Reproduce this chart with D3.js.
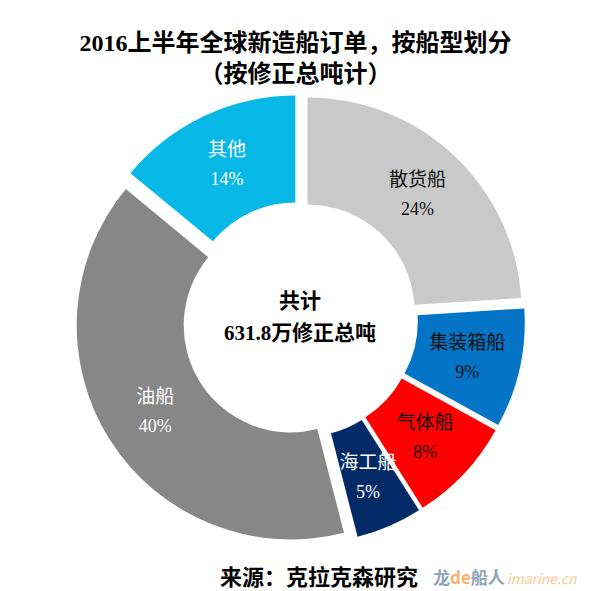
<!DOCTYPE html>
<html>
<head>
<meta charset="utf-8">
<script src="https://cdn.jsdelivr.net/npm/d3@7"></script>
<style>
  html, body { margin: 0; padding: 0; background: #fff; }
  svg { display: block; }
</style>
</head>
<body>
<div id="chart"></div>
<script>
"use strict";

// Ship types, clockwise from 12 o'clock
const categories = ["散货船", "集装箱船", "气体船", "海工船", "油船", "其他"];
const shares = [24, 9, 8, 5, 40, 14];
const sliceColors = ["#c9c9c9", "#0474c6", "#ff0000", "#022a66", "#878787", "#07b8e6"];
const labelColors = ["#111", "#111", "#111", "#fff", "#fff", "#fff"];

const titleLines = ["2016上半年全球新造船订单，按船型划分", "（按修正总吨计）"];
const centerLines = ["共计", "631.8万修正总吨"];
const sourceText = "来源：克拉克森研究";

const width = 591;
const height = 591;
const cx = 300;
const cy = 319.5;
const outerR = 214;
const innerR = 107;
const explode = 11;

const cjk = "'Liberation Serif', 'Noto Sans CJK SC', serif";

const svg = d3.select("#chart").append("svg")
    .attr("width", width)
    .attr("height", height);

svg.append("rect")
    .attr("width", width)
    .attr("height", height)
    .attr("fill", "#fff");

// Title
svg.append("g").selectAll("text")
    .data(titleLines)
  .enter().append("text")
    .attr("x", width / 2)
    .attr("y", (d, i) => 51 + i * 31)
    .attr("text-anchor", "middle")
    .style("font-family", cjk)
    .style("font-size", "24px")
    .style("font-weight", "bold")
    .style("fill", "#000")
    .text(d => d);

// Donut
const data = categories.map((c, i) => ({name: c, value: shares[i], color: sliceColors[i], labelColor: labelColors[i]}));

const pie = d3.pie()
    .sort(null)
    .value(d => d.value);

const arc = d3.arc()
    .innerRadius(innerR)
    .outerRadius(outerR);

const arcs = pie(data);

function offset(d) {
  const mid = (d.startAngle + d.endAngle) / 2;
  return [Math.sin(mid) * explode, -Math.cos(mid) * explode];
}

const slices = svg.append("g")
    .attr("transform", "translate(" + cx + "," + cy + ")")
  .selectAll(".slice")
    .data(arcs)
  .enter().append("g")
    .attr("class", "slice")
    .attr("transform", d => "translate(" + offset(d).join(",") + ")");

slices.append("path")
    .attr("d", arc)
    .attr("fill", d => d.data.color);

// Labels: name and percent
const labels = slices.append("g")
    .attr("transform", d => "translate(" + arc.centroid(d).join(",") + ")")
    .style("fill", d => d.data.labelColor);

labels.append("text")
    .attr("y", -8)
    .attr("text-anchor", "middle")
    .style("font-family", cjk)
    .style("font-size", "19px")
    .text(d => d.data.name);

labels.append("text")
    .attr("y", 21)
    .attr("text-anchor", "middle")
    .style("font-family", cjk)
    .style("font-size", "18px")
    .text(d => d.data.value + "%");

// Center text
svg.append("g").selectAll("text")
    .data(centerLines)
  .enter().append("text")
    .attr("x", cx)
    .attr("y", (d, i) => 308 + i * 32)
    .attr("text-anchor", "middle")
    .style("font-family", cjk)
    .style("font-size", "21px")
    .style("font-weight", "bold")
    .style("fill", "#000")
    .text(d => d);

// Source
svg.append("text")
    .attr("x", 319)
    .attr("y", 585)
    .attr("text-anchor", "middle")
    .style("font-family", cjk)
    .style("font-size", "22px")
    .style("font-weight", "bold")
    .style("fill", "#000")
    .text(sourceText);

// Watermark
const wm = svg.append("text")
    .attr("x", 433)
    .attr("y", 584)
    .style("font-family", "'Noto Sans CJK SC', sans-serif")
    .style("font-size", "17px")
    .style("font-weight", "bold");
wm.append("tspan").style("fill", "#8ea3b8").text("龙");
wm.append("tspan").style("fill", "#f6b26b").text("de");
wm.append("tspan").style("fill", "#8ea3b8").text("船人");
wm.append("tspan")
    .attr("dx", 2)
    .style("fill", "#f9c98f")
    .style("font-weight", "normal")
    .style("font-style", "italic")
    .style("font-size", "14px")
    .text("imarine.cn");
</script>
</body>
</html>
